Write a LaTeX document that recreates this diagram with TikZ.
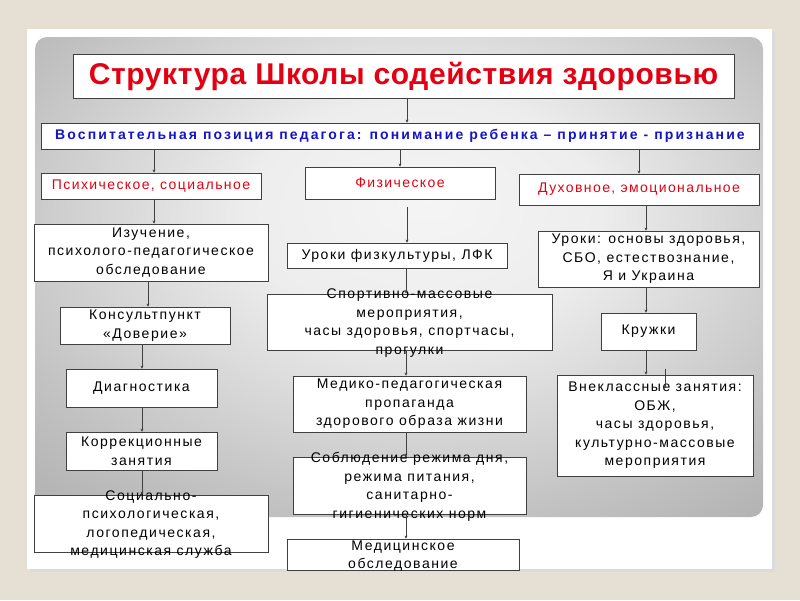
\documentclass[tikz,border=0pt]{standalone}
\usepackage{fontspec}
\setmainfont{Liberation Sans}
\newfontfamily\boxfont[LetterSpace=11]{Liberation Sans}
\newfontfamily\catfont[LetterSpace=10]{Liberation Sans}
\newfontfamily\posfont[LetterSpace=15]{Liberation Sans}
\newfontfamily\titlefont[LetterSpace=2]{Liberation Sans}
\usetikzlibrary{arrows.meta}
\definecolor{slidebeige}{RGB}{229,223,212}
\definecolor{titlered}{RGB}{228,0,18}
\definecolor{posblue}{RGB}{20,20,200}
\definecolor{linegray}{RGB}{64,64,64}
\pgfdeclareradialshading{slidegray}{\pgfpoint{2bp}{8bp}}{color(0bp)=(black!4); color(12bp)=(black!7); color(30bp)=(black!24); color(50bp)=(black!40); color(72bp)=(black!46)}
\begin{document}
\begin{tikzpicture}[x=1pt,y=-1pt,
  box/.style={draw=linegray, line width=0.8pt, fill=white, inner sep=0pt, align=center,
    font=\boxfont\fontsize{14}{18.5}\selectfont},
  cat/.style={box, text=titlered, font=\catfont\fontsize{14}{16}\selectfont},
  txt/.style={align=center, inner sep=0pt, font=\boxfont\fontsize{14}{18.5}\selectfont},
  arr/.style={draw=linegray, line width=0.6pt, -{Stealth[length=3pt,width=3pt]}}]
% slide
\useasboundingbox (0,0) rectangle (800,600);
\fill[slidebeige] (0,0) rectangle (800,600);
\fill[black!14] (30,32) rectangle (775,572);
\fill[white] (27,29) rectangle (772,569);
\shade[shading=slidegray, rounded corners=12pt] (35,37) rectangle (763,517);

% header
\node[box, minimum width=661pt, minimum height=44pt, text=titlered,
  font=\titlefont\bfseries\fontsize{30}{34}\selectfont] (title) at (403.5,76) {Структура Школы содействия здоровью};
\node[box, minimum width=718pt, minimum height=26pt, text=posblue,
  font=\posfont\bfseries\fontsize{14}{16}\selectfont] (pos) at (400,136)
  {Воспитательная позиция педагога: понимание ребенка – принятие - признание};
\node[cat, minimum width=220pt, minimum height=26pt] (psy) at (151,186) {Психическое, социальное};
\node[cat, minimum width=190pt, minimum height=32pt] (fiz) at (400,183) {Физическое};
\node[cat, minimum width=240pt, minimum height=31pt] (duh) at (639,189.5) {Духовное, эмоциональное};

% left column
\node[box, minimum width=234pt, minimum height=57pt] (izu) at (151,252.5) {Изучение,\\психолого-педагогическое\\обследование};
\node[box, minimum width=170pt, minimum height=37pt] (kons) at (145,325.5) {Консультпункт\\«Доверие»};
\node[box, minimum width=151pt, minimum height=38pt] (diag) at (141.5,388) {Диагностика};
\node[box, minimum width=151pt, minimum height=38pt] (korr) at (141.5,451) {Коррекционные\\занятия};
\node[box, minimum width=234pt, minimum height=57pt] (soc) at (151,523.5) {};
\node[txt] (soc-t) at (151,524.5) {Социально-\\психологическая,\\логопедическая,\\медицинская служба};

% middle column
\node[box, minimum width=220pt, minimum height=25pt] (uro) at (397,255.5) {Уроки физкультуры, ЛФК};
\node[box, minimum width=285pt, minimum height=56pt] (spo) at (409.5,322) {};
\node[txt] (spo-t) at (409.5,323) {Спортивно-массовые\\мероприятия,\\часы здоровья, спортчасы,\\прогулки};
\node[box, minimum width=233pt, minimum height=56pt] (med) at (409.5,404) {Медико-педагогическая\\пропаганда\\здорового образа жизни};
\node[box, minimum width=233pt, minimum height=57pt] (sob) at (409.5,485.5) {};
\node[txt] (sob-t) at (409.5,487) {Соблюдение режима дня,\\режима питания,\\санитарно-\\гигиенических норм};
\node[box, minimum width=232pt, minimum height=31pt] (mobs) at (403,554.5) {};
\node[txt] (mobs-t) at (403,556) {Медицинское\\обследование};

% right column
\node[box, minimum width=221pt, minimum height=56pt] (urk) at (648.5,259) {Уроки: основы здоровья,\\СБО, естествознание,\\Я и Украина};
\node[box, minimum width=95pt, minimum height=37pt] (kru) at (648.5,331.5) {Кружки};
\node[box, minimum width=196pt, minimum height=101pt] (vne) at (655,425.5) {Внеклассные занятия:\\ОБЖ,\\часы здоровья,\\культурно-массовые\\мероприятия};

% arrows
\draw[arr] ([xshift=3.5pt]title.south) -- ([xshift=7pt]pos.north);
\draw[arr] ([xshift=3pt]psy.north |- pos.south) -- ([xshift=3pt]psy.north);
\draw[arr] (fiz.north |- pos.south) -- (fiz.north);
\draw[arr] (duh.north |- pos.south) -- (duh.north);
\draw[arr] ([xshift=3pt]psy.south) -- ([xshift=3pt]izu.north);
\draw[arr] ([xshift=-3pt]izu.south) -- ([xshift=3pt]kons.north);
\draw[arr] ([xshift=-3pt]kons.south) -- ([xshift=0.5pt]diag.north);
\draw[arr] ([xshift=0.5pt]diag.south) -- ([xshift=0.5pt]korr.north);
\draw[arr] ([xshift=0.5pt]korr.south) -- ([xshift=-9pt]soc.north);
\draw[arr] ([xshift=7pt,yshift=-8pt]fiz.south) -- ([xshift=10pt]uro.north);
\draw[arr] ([xshift=9pt]uro.south) -- ([xshift=-3.5pt]spo.north);
\draw[arr] ([xshift=-3.5pt]spo.south) -- ([xshift=-3.5pt]med.north);
\draw[arr] ([xshift=-3.5pt]med.south) -- ([xshift=-3.5pt]sob.north);
\draw[arr] ([xshift=-3.5pt]sob.south) -- ([xshift=3pt]mobs.north);
\draw[arr] ([xshift=7pt]duh.south) -- ([xshift=-2.5pt]urk.north);
\draw[arr] ([xshift=-2.5pt]urk.south) -- ([xshift=-2.5pt]kru.north);
\draw[arr] ([xshift=-2.5pt]kru.south) -- ([xshift=-9pt]vne.north);
\draw[linegray, line width=0.6pt] ([xshift=10pt,yshift=6pt]vne.north) -- ++(0,19);
\end{tikzpicture}
\end{document}
